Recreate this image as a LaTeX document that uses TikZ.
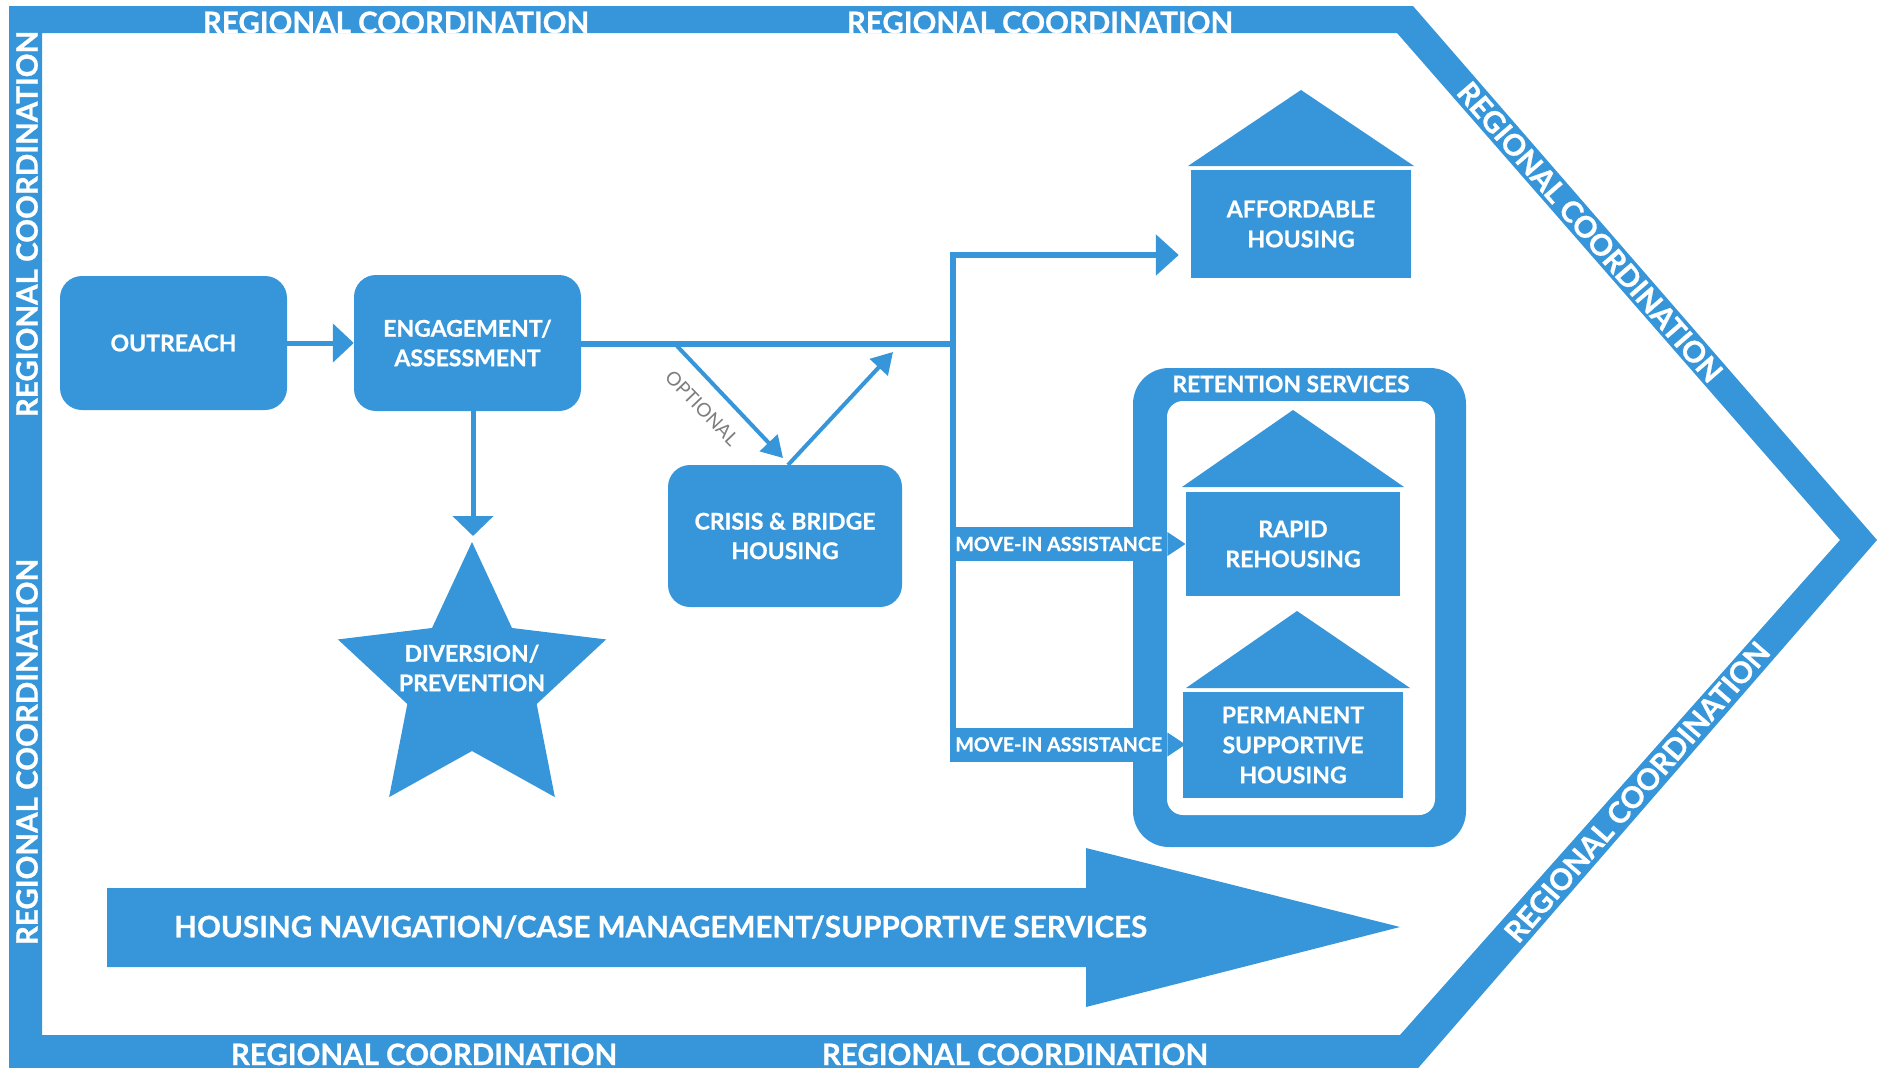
\documentclass[tikz,border=0pt]{standalone}
\usepackage{fontspec}
\setmainfont{Lato}[BoldFeatures={FakeBold=0.8}]
\usetikzlibrary{arrows.meta}
\definecolor{cblue}{RGB}{54,150,217}
\definecolor{optgray}{RGB}{125,125,125}
\begin{document}
\begin{tikzpicture}[x=1pt,y=-1pt,
  frametxt/.style={text=white, font=\bfseries\fontsize{29.5}{32}\selectfont, inner sep=0pt},
  boxnode/.style={fill=cblue, rounded corners=22pt, text=white, align=center, inner sep=0pt,
    font=\bfseries\fontsize{23}{29.5}\selectfont},
  hbody/.style={fill=cblue, text=white, align=center, inner sep=0pt,
    font=\bfseries\fontsize{23}{30}\selectfont},
  moveband/.style={fill=cblue, text=white, inner sep=0pt, anchor=west,
    minimum width=217pt, minimum height=34pt, font=\bfseries\fontsize{19.6}{21}\selectfont},
  conn/.style={draw=cblue, line width=6pt},
  thinconn/.style={draw=cblue, line width=4pt, -{Triangle[length=21pt,width=24pt]}},
]
\useasboundingbox (0,0) rectangle (1877,1068);
% outer frame
\begin{scope}
\clip (0,0) rectangle (1877,1068);
\fill[cblue, even odd rule] (9,6) -- (1413,6) -- (1877,540) -- (1413,1074) -- (9,1074) -- cycle
  (42,33) -- (1397,33) -- (1840,540) -- (1400,1035) -- (42,1035) -- cycle;
\end{scope}
\node[frametxt, anchor=base] (t1) at (396,33) {REGIONAL COORDINATION};
\node[frametxt, anchor=base] (t2) at (1040,33) {REGIONAL COORDINATION};
\node[frametxt, anchor=base] (b1) at (424,1065) {REGIONAL COORDINATION};
\node[frametxt, anchor=base] (b2) at (1015,1065) {REGIONAL COORDINATION};
\node[frametxt, rotate=90] (l1) at (27,224) {REGIONAL COORDINATION};
\node[frametxt, rotate=90] (l2) at (27,752) {REGIONAL COORDINATION};
\node[frametxt, rotate=-49] (d1) at (1590,232) {REGIONAL COORDINATION};
\node[frametxt, rotate=49] (d2) at (1637,792) {REGIONAL COORDINATION};

% main boxes
\node[boxnode, minimum width=227pt, minimum height=134pt] (outreach) at (173.5,343) {OUTREACH};
\node[boxnode, minimum width=227pt, minimum height=136pt] (engage) at (467.5,343) {ENGAGEMENT/\\ASSESSMENT};
\node[boxnode, minimum width=234pt, minimum height=142pt] (crisis) at (785,536) {CRISIS \& BRIDGE\\HOUSING};

% star
\begin{scope}[shift={(472,683)}, yscale=-1]
\fill[cblue] (90:141) -- (126:68) -- (162:141) -- (198:68) -- (234:141) -- (270:68)
  -- (306:141) -- (342:68) -- (18:141) -- (54:68) -- cycle;
\end{scope}
\coordinate (starapex) at (473,542);
\node[text=white, align=center, inner sep=0pt, font=\bfseries\fontsize{23}{29.5}\selectfont] (divert) at (472,668) {DIVERSION/\\PREVENTION};

% affordable housing
\fill[cblue] (1188,166) -- (1301,90) -- (1414,166) -- cycle;
\node[hbody, minimum width=220pt, minimum height=108pt] (afford) at (1301,224) {AFFORDABLE\\HOUSING};

% retention services frame
\fill[cblue, rounded corners=36pt] (1133,368) rectangle (1466,847);
\fill[white, rounded corners=16pt] (1167,401) rectangle (1435,815);
\node[text=white, inner sep=0pt, font=\bfseries\fontsize{22.8}{26}\selectfont] (retention) at (1291,384) {RETENTION SERVICES};

% rapid rehousing
\fill[cblue] (1182,487) -- (1293,410) -- (1404,487) -- cycle;
\node[hbody, minimum width=214pt, minimum height=104pt] (rapid) at (1293,544) {RAPID\\REHOUSING};

% permanent supportive housing
\fill[cblue] (1186,688) -- (1297,611) -- (1410,688) -- cycle;
\node[hbody, minimum width=220pt, minimum height=106pt] (psh) at (1293,745) {PERMANENT\\SUPPORTIVE\\HOUSING};

% connectors
\coordinate (jn) at (953,344);
\coordinate (jt) at (953,255);
\coordinate (jb) at (953,762);
\draw[cblue, line width=5pt, -{Triangle[length=21pt,width=38pt]}] (outreach.east) -- (engage.west);
\draw[cblue, line width=5pt, -{Triangle[length=20pt,width=40pt]}] (engage.south -| starapex) -- ([yshift=6pt]starapex);
\draw[conn] (engage.east |- jn) -- ([xshift=3pt]jn);
\draw[conn, -{Triangle[length=23pt,width=40pt]}] (jb) -- (jt) -- ([xshift=-12pt]afford.west |- jt);

% optional loop
\coordinate (optstart) at (677,346);
\coordinate (optend) at (783,458);
\coordinate (retstart) at (788,465);
\coordinate (retend) at (893,352);
\draw[thinconn] (optstart) -- (optend);
\draw[thinconn] (retstart) -- (retend);
\node[text=optgray, inner sep=0pt, rotate=-46, font=\fontsize{19}{21}\selectfont] (optional) at (702,408) {OPTIONAL};

% move-in assistance bands
\node[moveband] (mv1) at (950,544) {MOVE-IN ASSISTANCE};
\fill[cblue] ([yshift=12pt]mv1.east) -- ++(18,12) -- ++(-18,12) -- cycle;
\node[moveband] (mv2) at (950,744.5) {MOVE-IN ASSISTANCE};
\fill[cblue] ([yshift=12pt]mv2.east) -- ++(18,12) -- ++(-18,12) -- cycle;

% big arrow
\fill[cblue] (107,888) -- (1086,888) -- (1086,848) -- (1400,927) -- (1086,1007) -- (1086,967) -- (107,967) -- cycle;
\node[text=white, anchor=west, inner sep=0pt, font=\bfseries\fontsize{29.6}{34}\selectfont] (navtext) at (174,927) {HOUSING NAVIGATION/CASE MANAGEMENT/SUPPORTIVE SERVICES};
\end{tikzpicture}
\end{document}
